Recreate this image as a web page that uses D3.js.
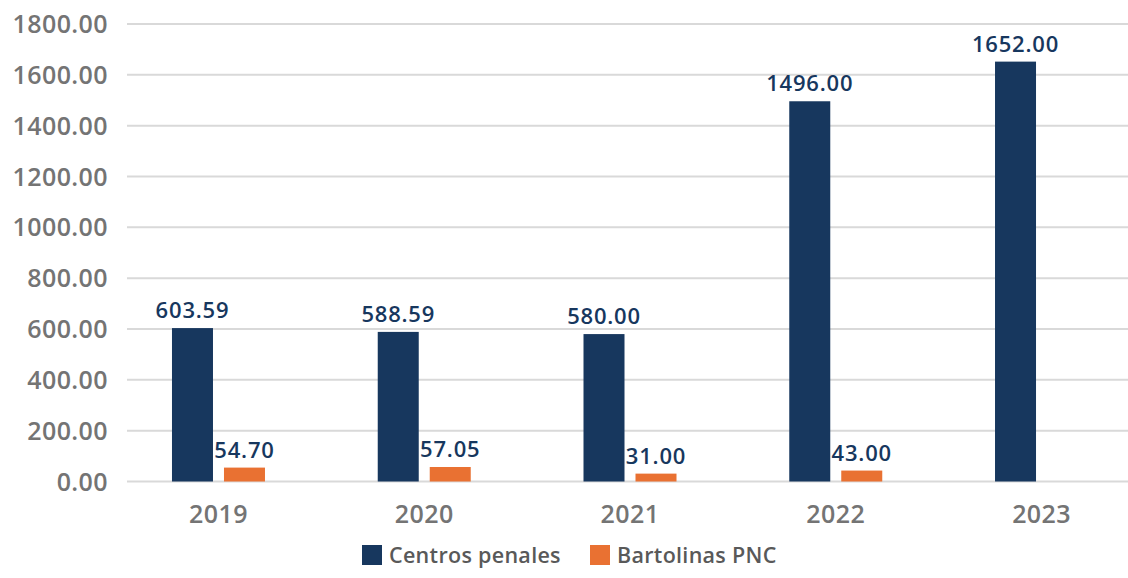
<!DOCTYPE html>
<html>
<head>
<meta charset="utf-8">
<script src="https://cdn.jsdelivr.net/npm/d3@7"></script>
<style>
  html, body { margin: 0; padding: 0; background: #ffffff; }
  svg { display: block; font-family: "Open Sans", "Noto Sans", sans-serif; }
</style>
</head>
<body>
<svg id="chart" width="1128" height="578"></svg>
<script>
// Population by year: penal centres vs. PNC holding cells
const years = ["2019", "2020", "2021", "2022", "2023"];
const seriesNames = ["Centros penales", "Bartolinas PNC"];
const centrosPenales = [603.59, 588.59, 580.00, 1496.00, 1652.00];
const bartolinasPNC = [54.70, 57.05, 31.00, 43.00, null];
const yTicks = [0, 200, 400, 600, 800, 1000, 1200, 1400, 1600, 1800];

const colors = { "Centros penales": "#17375E", "Bartolinas PNC": "#E97132" };

const svg = d3.select("#chart");

const y = d3.scaleLinear().domain([0, 1800]).range([481.5, 24]);

const x0 = d3.scaleBand()
  .domain(years)
  .range([115.6, 1144.4])
  .paddingInner(0.548)
  .paddingOuter(0.274);

const x1 = d3.scaleBand()
  .domain(seriesNames)
  .range([0, x0.bandwidth()])
  .paddingInner(0.2115);

// Horizontal gridlines
svg.append("g")
  .selectAll("line")
  .data(yTicks)
  .join("line")
  .attr("x1", 127)
  .attr("x2", 1128)
  .attr("y1", d => y(d))
  .attr("y2", d => y(d))
  .attr("stroke", "#d9d9d9")
  .attr("stroke-width", 2);

// Y axis labels
const yAxis = d3.axisLeft(y).tickValues(yTicks).tickFormat(d3.format(".2f")).tickSize(0).tickPadding(0);
const gy = svg.append("g").attr("transform", "translate(108,0)").call(yAxis);
gy.select(".domain").remove();
gy.selectAll("text")
  .attr("fill", "#747474")
  .attr("font-size", 25)
  .attr("font-weight", 650)
  .attr("letter-spacing", 0.4)
  .attr("font-family", "'Open Sans', sans-serif")
  .attr("dy", "0.34em");

// X axis labels
const xAxis = d3.axisBottom(x0).tickSize(0).tickPadding(0);
const gx = svg.append("g").attr("transform", "translate(0,523)").call(xAxis);
gx.select(".domain").remove();
gx.selectAll("text")
  .attr("fill", "#747474")
  .attr("font-size", 25)
  .attr("font-weight", 650)
  .attr("letter-spacing", 0.4)
  .attr("font-family", "'Open Sans', sans-serif")
  .attr("dy", 0);

// Bars and value labels
const rows = years.map((yr, i) => ({
  year: yr,
  values: [
    { key: "Centros penales", value: centrosPenales[i] },
    { key: "Bartolinas PNC", value: bartolinasPNC[i] }
  ].filter(d => d.value != null)
}));

const groups = svg.append("g")
  .selectAll("g")
  .data(rows)
  .join("g")
  .attr("transform", d => `translate(${x0(d.year)},0)`);

groups.selectAll("rect")
  .data(d => d.values)
  .join("rect")
  .attr("x", d => x1(d.key))
  .attr("width", x1.bandwidth())
  .attr("y", d => y(d.value))
  .attr("height", d => y(0) - y(d.value))
  .attr("fill", d => colors[d.key]);

groups.selectAll("text")
  .data(d => d.values)
  .join("text")
  .attr("x", d => x1(d.key) + x1.bandwidth() / 2)
  .attr("y", d => y(d.value) - 10)
  .attr("text-anchor", "middle")
  .attr("fill", "#17375E")
  .attr("font-size", 22)
  .attr("font-weight", 650)
  .attr("letter-spacing", 0.8)
  .text(d => d3.format(".2f")(d.value));

// Legend
const legendPos = [362, 590];
const legend = svg.append("g")
  .selectAll("g")
  .data(seriesNames)
  .join("g")
  .attr("transform", (d, i) => `translate(${legendPos[i]},545)`);

legend.append("rect")
  .attr("width", 20)
  .attr("height", 20)
  .attr("fill", d => colors[d]);

legend.append("text")
  .attr("x", 27)
  .attr("y", 18)
  .attr("fill", "#595959")
  .attr("font-size", 21.5)
  .attr("font-weight", 650)
  .attr("letter-spacing", 0.3)
  .text(d => d);
</script>
</body>
</html>
